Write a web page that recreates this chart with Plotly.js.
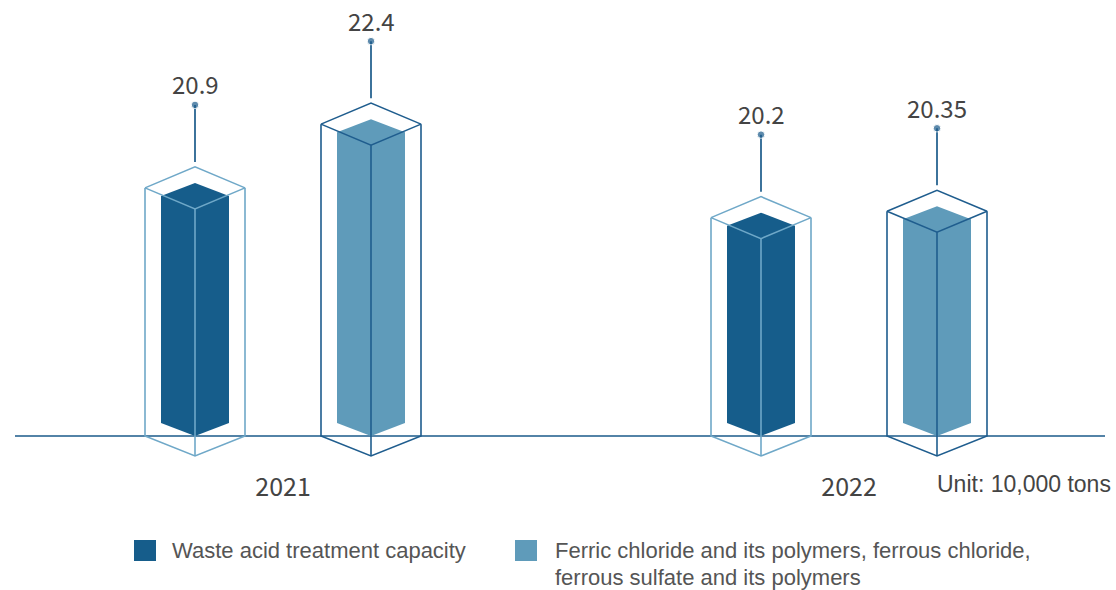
<!DOCTYPE html>
<html>
<head>
<meta charset="utf-8">
<script src="https://cdn.plot.ly/plotly-3.0.1.min.js"></script>
<style>
  html, body { margin: 0; padding: 0; background: #ffffff; }
  #chart { width: 1116px; height: 590px; }
</style>
</head>
<body>
<div id="chart"></div>
<script>
// ---- data ----
const years = ['2021', '2022'];
const seriesNames = [
  'Waste acid treatment capacity',
  'Ferric chloride and its polymers, ferrous chloride,<br>ferrous sulfate and its polymers'
];
const wasteAcidCapacity = [20.9, 20.2];
const ironSaltOutput = [22.4, 20.35];
const unitNote = 'Unit: 10,000 tons';

const seriesValues = [wasteAcidCapacity, ironSaltOutput];

// ---- styling ----
const fillColors = ['#165d8b', '#5f9bba'];
const edgeColors = ['#6fa8c8', '#1f5d8e'];
const accent = '#1a5a8a';
const textColor = '#444444';

// ---- canvas / axis geometry ----
const W = 1116, H = 590;
const M = { l: 15, r: 11, t: 10, b: 120 };
const plotW = W - M.l - M.r;
const plotH = H - M.t - M.b;

const X_RANGE = [-0.4735, 1.4523];
const AXIS_FLOOR = 15.25;      // value sitting on the baseline
const PX_PER_UNIT = 42.5;      // vertical scale
const FLOOR_ABOVE_BOTTOM = 34; // baseline distance above plot bottom (px)
const Y_RANGE = [
  AXIS_FLOOR - FLOOR_ABOVE_BOTTOM / PX_PER_UNIT,
  AXIS_FLOOR + (plotH - FLOOR_ABOVE_BOTTOM) / PX_PER_UNIT
];

// pixel lengths -> data lengths
const dx = px => px * (X_RANGE[1] - X_RANGE[0]) / plotW;
const dy = px => px / PX_PER_UNIT;
// pixel positions -> paper fractions
const paperX = px => (px - M.l) / plotW;
const paperY = py => (M.t + plotH - py) / plotH;

// prism proportions (px)
const SERIES_OFFSET = 88;
const INNER_HALF = 34, INNER_CAP = 13, INNER_FOOT = 13;
const OUTER_HALF = 50, OUTER_LIFT = 8, OUTER_CAP = 21, OUTER_FOOT = 20;
const LEADER_GAP = 5, LEADER_LEN = 57, LABEL_SHIFT = 21;

const traces = [];
const annotations = [];

seriesValues.forEach((vals, s) => {
  const side = s === 0 ? -1 : 1;
  vals.forEach((v, g) => {
    const cx = g + side * dx(SERIES_OFFSET);
    const b = AXIS_FLOOR;

    // solid prism body
    const ih = dx(INNER_HALF);
    traces.push({
      type: 'scatter', mode: 'lines', name: seriesNames[s],
      x: [cx, cx + ih, cx + ih, cx, cx - ih, cx - ih, cx],
      y: [v + dy(INNER_CAP), v, b + dy(INNER_FOOT), b, b + dy(INNER_FOOT), v, v + dy(INNER_CAP)],
      fill: 'toself', fillcolor: fillColors[s],
      line: { width: 0, color: fillColors[s] },
      showlegend: false, hoverinfo: 'skip'
    });

    // wireframe casing
    const oh = dx(OUTER_HALF);
    const top = v + dy(OUTER_LIFT);
    const apex = top + dy(OUTER_CAP);
    const front = top - dy(OUTER_CAP);
    const foot = b - dy(OUTER_FOOT);
    traces.push({
      type: 'scatter', mode: 'lines', name: seriesNames[s],
      x: [cx - oh, cx, cx + oh, cx, cx - oh, null,
          cx - oh, cx - oh, cx, cx + oh, cx + oh, null,
          cx, cx],
      y: [top, apex, top, front, top, null,
          top, b, foot, b, top, null,
          front, foot],
      line: { width: 1.6, color: edgeColors[s] },
      showlegend: false, hoverinfo: 'skip'
    });

    // leader line with dot
    const y0 = apex + dy(LEADER_GAP);
    const y1 = y0 + dy(LEADER_LEN);
    traces.push({
      type: 'scatter', mode: 'lines+markers',
      x: [cx, cx], y: [y0, y1],
      line: { width: 1.7, color: accent },
      marker: { size: [0, 7.5], color: accent },
      showlegend: false, hoverinfo: 'skip', cliponaxis: false
    });

    annotations.push({
      x: cx, y: y1, xref: 'x', yref: 'y',
      text: String(v), showarrow: false,
      yshift: LABEL_SHIFT, xanchor: 'center', yanchor: 'middle', borderpad: 0,
      font: { family: 'Noto Sans CJK SC, Noto Sans, sans-serif', size: 24, color: textColor }
    });
  });
});

// unit note
annotations.push({
  x: paperX(1112), y: paperY(484), xref: 'paper', yref: 'paper',
  text: unitNote, showarrow: false, xanchor: 'right', yanchor: 'middle', borderpad: 0,
  font: { family: 'Liberation Sans, Arial, sans-serif', size: 23, color: textColor }
});

// legend: swatch plus one text row per line of the series name
const legendSwatchX = [134, 515];
const legendTextX = [171, 554];
const legendRowY = [550, 577];
const shapes = [{
  type: 'line', xref: 'x domain', yref: 'y',
  x0: 0, x1: 1, y0: AXIS_FLOOR, y1: AXIS_FLOOR,
  line: { color: accent, width: 1.6 }, layer: 'below'
}];
seriesNames.forEach((name, s) => {
  shapes.push({
    type: 'rect', xref: 'paper', yref: 'paper',
    x0: paperX(legendSwatchX[s]), x1: paperX(legendSwatchX[s] + 22),
    y0: paperY(540), y1: paperY(561),
    fillcolor: fillColors[s], line: { width: 0 }
  });
  name.split('<br>').forEach((row, r) => {
    annotations.push({
      x: paperX(legendTextX[s]), y: paperY(legendRowY[r]), xref: 'paper', yref: 'paper',
      text: row, showarrow: false, xanchor: 'left', yanchor: 'middle', align: 'left',
      borderpad: 0,
      font: { family: 'Liberation Sans, Arial, sans-serif', size: 22, color: '#555555' }
    });
  });
});

const layout = {
  width: W, height: H,
  margin: M,
  paper_bgcolor: '#ffffff', plot_bgcolor: '#ffffff',
  showlegend: false,
  xaxis: {
    range: X_RANGE, tickvals: years.map((_, i) => i), ticktext: years,
    showgrid: false, zeroline: false, showline: false, ticks: '',
    tickfont: { family: 'Noto Sans CJK SC, Noto Sans, sans-serif', size: 25, color: textColor },
    fixedrange: true
  },
  yaxis: {
    range: Y_RANGE, visible: false, showgrid: false, zeroline: false, fixedrange: true
  },
  shapes: shapes,
  annotations: annotations
};

Plotly.newPlot('chart', traces, layout, { displayModeBar: false, staticPlot: true });
</script>
</body>
</html>
